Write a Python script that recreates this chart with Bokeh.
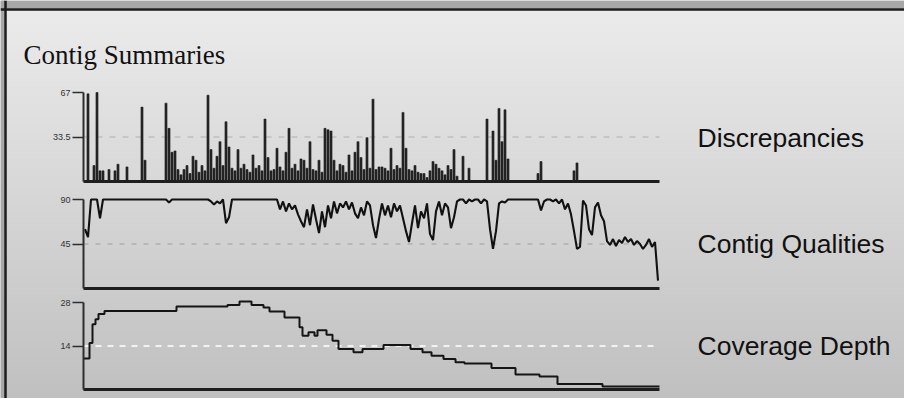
import numpy as np
from bokeh.plotting import figure
from bokeh.models import (Range1d, LinearAxis, FixedTicker, CustomJSTickFormatter,
                          Label, Span, BoxAnnotation)
from bokeh.embed import file_html
from bokeh.resources import INLINE

# ---------------- data ----------------
TITLE = "Contig Summaries"
PANEL_LABELS = ["Discrepancies", "Contig Qualities", "Coverage Depth"]

disc_max = 67
qual_max = 90
cov_max = 28

discrepancies = [
    0, 66, 0, 12, 67, 8, 8, 0, 9, 0, 8, 13, 0, 0, 11, 0, 0, 0, 0, 56,
    16, 0, 0, 0, 0, 0, 0, 59, 40, 22, 23, 9, 5, 9, 12, 6, 19, 16, 7, 12,
    8, 65, 24, 10, 19, 30, 12, 45, 26, 10, 8, 24, 10, 13, 9, 7, 20, 10, 12, 8,
    47, 18, 8, 9, 25, 11, 8, 22, 40, 10, 13, 8, 17, 16, 10, 30, 9, 8, 16, 7,
    40, 39, 38, 16, 8, 13, 12, 7, 20, 8, 22, 30, 18, 9, 33, 10, 62, 9, 11, 11,
    10, 8, 25, 9, 12, 10, 52, 25, 9, 8, 12, 7, 6, 6, 3, 8, 15, 13, 10, 8,
    5, 12, 9, 24, 4, 0, 19, 0, 10, 0, 0, 0, 0, 0, 47, 0, 38, 16, 55, 30,
    54, 17, 0, 0, 0, 0, 0, 0, 0, 0, 0, 6, 15, 0, 0, 0, 0, 0, 0, 0,
    0, 0, 0, 8, 14, 0, 0, 0, 0, 0, 0, 0, 0, 0, 0, 0, 0, 0, 0, 0,
    0, 0, 0, 0, 0, 0, 0, 0, 0, 0, 0, 0,
]

qualities = [
    60, 52, 90, 90, 90, 71, 90, 90, 90, 90, 90, 90, 90, 90, 90, 90, 90, 90, 90, 90,
    90, 90, 90, 90, 90, 90, 90, 90, 87, 90, 90, 90, 90, 90, 90, 90, 90, 90, 90, 90,
    90, 90, 88, 85, 88, 86, 90, 66, 72, 90, 90, 90, 90, 90, 90, 90, 90, 90, 90, 90,
    90, 90, 90, 90, 90, 80, 88, 78, 86, 80, 84, 75, 68, 62, 80, 64, 85, 70, 56, 78,
    62, 84, 71, 88, 76, 86, 82, 88, 80, 87, 76, 71, 82, 74, 88, 84, 64, 51, 70, 86,
    74, 84, 72, 86, 78, 84, 71, 58, 47, 66, 84, 61, 78, 71, 86, 55, 49, 78, 88, 74,
    86, 82, 61, 72, 88, 90, 90, 86, 90, 88, 90, 90, 86, 90, 88, 60, 40, 58, 86, 88,
    87, 90, 90, 90, 90, 90, 90, 90, 90, 90, 90, 90, 79, 88, 90, 90, 88, 90, 86, 90,
    80, 86, 75, 58, 40, 42, 89, 84, 60, 54, 82, 87, 74, 68, 48, 44, 50, 43, 49, 46,
    52, 47, 50, 44, 48, 45, 40, 44, 50, 42, 47, 8,
]

coverage_start = [0, 2, 3, 4, 5, 7, 31, 48, 52, 56, 60, 62, 67, 72, 73, 75, 77, 78,
                  81, 83, 85, 90, 93, 100, 109, 113, 116, 120, 124, 127, 136, 144,
                  152, 158, 173, 192]
coverage_depth = [10, 15, 21, 22.6, 24.3, 25.3, 26.7, 27.2, 28.3, 27.2, 26.4, 25.1,
                  23.2, 20, 17.3, 18.4, 17.3, 19.1, 17.6, 15.7, 13, 12, 13, 14.3,
                  13, 12, 10.9, 9.8, 8.8, 8.4, 6.9, 4.8, 4.2, 1.8, 1.0, 1.0]

N = len(discrepancies)
contig_pos = [i + 0.5 for i in range(N)]

# ---------------- layout constants (canvas pixels, y from top) ----------------
W, H = 904, 398
X0 = 83          # canvas x of contig 0
PX = 3.0         # pixels per contig slot
DISC_Y = (181, 92)   # (baseline y, top-tick y)
QUAL_Y = (288, 199)
COV_Y = (389, 302)


def Y(py):
    return H - py


def sub_range(y0, ytop, vmax):
    k = (y0 - ytop) / vmax
    return Range1d((y0 - H) / k, y0 / k)


p = figure(width=W, height=H, output_backend="svg", toolbar_location=None,
           x_range=Range1d(0, W), y_range=Range1d(0, H),
           x_axis_type=None, y_axis_type=None, min_border=0)
p.outline_line_color = None
p.background_fill_color = "#d6d6d6"
p.border_fill_color = "#d6d6d6"

p.extra_x_ranges = {"idx": Range1d(-X0 / PX, (W - X0) / PX)}
p.extra_y_ranges = {
    "disc": sub_range(*DISC_Y, disc_max),
    "qual": sub_range(*QUAL_Y, qual_max),
    "cov": sub_range(*COV_Y, cov_max),
}

# background vertical gradient
img = np.zeros((H, 2), dtype=np.uint32)
view = img.view(dtype=np.uint8).reshape((H, 2, 4))
for r in range(H):
    py = H - r - 0.5
    t = min(max((py - 10) / 396.0, 0), 1)
    c = int(round(235 - 44 * t))
    view[r, :, 0] = c
    view[r, :, 1] = c
    view[r, :, 2] = c
    view[r, :, 3] = 255
bg = p.image_rgba(image=[img], x=0, y=0, dw=W, dh=H)
bg.level = "image"

# outer grey frame + panel border (top and left)
p.add_layout(BoxAnnotation(bottom=Y(8), top=H, fill_color="#a7a7a7", fill_alpha=1,
                           line_color=None))
p.add_layout(BoxAnnotation(left=0, right=4, fill_color="#a7a7a7", fill_alpha=1,
                           line_color=None))
p.add_layout(Span(location=Y(9), dimension="width", line_color="#1c1c1c", line_width=2.5))
p.add_layout(Span(location=5, dimension="height", line_color="#1c1c1c", line_width=2.5))

# title and panel labels
p.add_layout(Label(x=23, y=Y(54), text=TITLE, text_font="Liberation Serif",
                   text_font_size="27px", text_color="#111111", text_baseline="alphabetic"))
label_base = [137, 243, 345]
for txt, yb in zip(PANEL_LABELS, label_base):
    p.add_layout(Label(x=697, y=Y(yb), text=txt, text_font="Liberation Sans",
                       text_font_size="26.5px", text_color="#111111",
                       text_baseline="alphabetic"))

fmt_code = "return tick.toString()"
dash_styles = {
    "disc": dict(line_color="#c6c6c6", line_dash="6 7", line_width=2),
    "qual": dict(line_color="#b8b8b8", line_dash="5 7", line_width=2),
    "cov": dict(line_color="#f2f2f2", line_dash="6 6", line_width=2),
}
for name, vmax in (("disc", disc_max), ("qual", qual_max), ("cov", cov_max)):
    p.segment(x0=[0], y0=[vmax / 2], x1=[N], y1=[vmax / 2],
              x_range_name="idx", y_range_name=name, **dash_styles[name])
    yax = LinearAxis(x_range_name="idx", y_range_name=name, fixed_location=0,
                     bounds=(0, vmax),
                     ticker=FixedTicker(ticks=[vmax / 2, vmax], minor_ticks=[]),
                     formatter=CustomJSTickFormatter(code=fmt_code),
                     axis_line_color="#2e2e2e", axis_line_width=2,
                     major_tick_out=11, major_tick_in=0,
                     major_tick_line_color="#2e2e2e", major_tick_line_width=1.5,
                     minor_tick_line_color=None,
                     major_label_text_font_size="9px",
                     major_label_text_font="Liberation Sans",
                     major_label_text_color="#333333",
                     major_label_standoff=2)
    p.add_layout(yax, "left")
    xax = LinearAxis(x_range_name="idx", y_range_name=name, fixed_location=0,
                     bounds=(0, N),
                     ticker=FixedTicker(ticks=[], minor_ticks=[]),
                     axis_line_color="#1e1e1e", axis_line_width=3,
                     major_tick_line_color=None, minor_tick_line_color=None,
                     major_label_text_font_size="0px")
    p.add_layout(xax, "below")

# data
p.vbar(x=contig_pos, top=discrepancies, bottom=0, width=0.7,
       x_range_name="idx", y_range_name="disc",
       fill_color="#2a2a2a", line_color="#111111", line_width=0.5)
p.line(x=contig_pos, y=qualities, x_range_name="idx", y_range_name="qual",
       line_color="#111111", line_width=2.1)
p.step(x=coverage_start, y=coverage_depth, mode="after",
       x_range_name="idx", y_range_name="cov", line_color="#151515", line_width=2)

open("out.html", "w").write(file_html(p, INLINE))
